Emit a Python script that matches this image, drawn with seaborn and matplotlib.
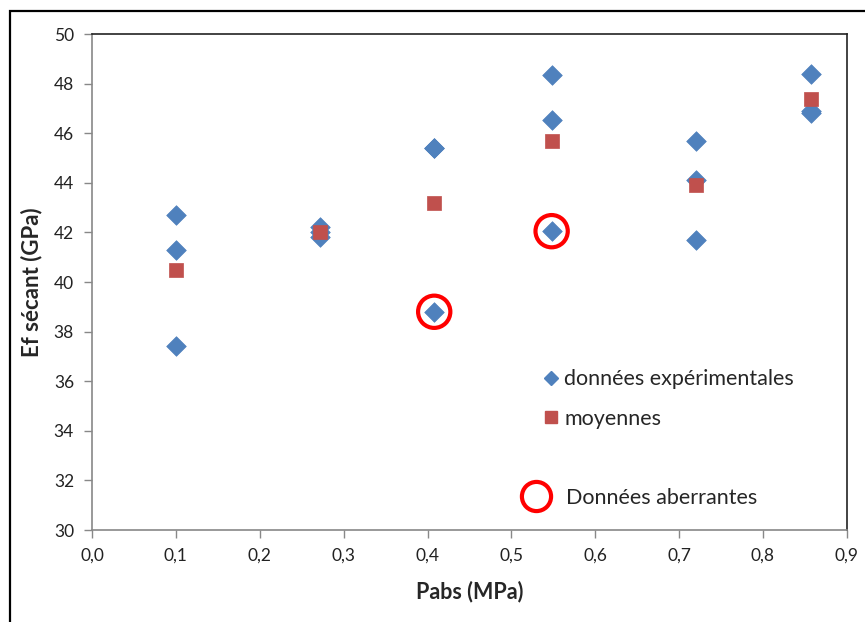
import numpy as np
import pandas as pd
import matplotlib
matplotlib.use("Agg")
import matplotlib.pyplot as plt
from matplotlib.lines import Line2D
from matplotlib.patches import Rectangle
import seaborn as sns

# pressures (MPa) and measured secant modulus (GPa)
exp_pabs = [0.10, 0.10, 0.10, 0.272, 0.272, 0.272, 0.408, 0.408, 0.408,
            0.548, 0.548, 0.548, 0.72, 0.72, 0.72, 0.857, 0.857, 0.857]
exp_ef = [42.7, 41.3, 37.4, 42.2, 41.8, 42.0, 45.4, 45.4, 38.8,
          48.35, 46.55, 42.05, 45.7, 44.1, 41.7, 48.4, 46.9, 46.8]

mean_pabs = [0.10, 0.272, 0.408, 0.548, 0.72, 0.857]
mean_ef = [40.5, 42.0, 43.2, 45.7, 43.9, 47.4]

# outliers (circled)
out_pabs = [0.408, 0.548]
out_ef = [38.8, 42.05]

xticks = [0.0, 0.1, 0.2, 0.3, 0.4, 0.5, 0.6, 0.7, 0.8, 0.9]
yticks = [30, 32, 34, 36, 38, 40, 42, 44, 46, 48, 50]

BLUE = "#4F81BD"
RED = "#C0504D"
RING = "#FF0000"

sns.set_style("white")
plt.rcParams["font.family"] = ["Lato", "DejaVu Sans"]

df_exp = pd.DataFrame({"Pabs": exp_pabs, "Ef": exp_ef})
df_mean = pd.DataFrame({"Pabs": mean_pabs, "Ef": mean_ef})
df_out = pd.DataFrame({"Pabs": out_pabs, "Ef": out_ef})

fig = plt.figure(figsize=(8.65, 6.22), dpi=100)
ax = fig.add_axes([0.1064, 0.1479, 0.8726, 0.7974])

# outer frame of the original excel chart (only top/left visible)
fig.patches.append(Rectangle((10 / 865, -0.1), 1.2, 1 - 11 / 622 + 0.1,
                             transform=fig.transFigure, fill=False,
                             edgecolor="black", linewidth=1.6, zorder=0))

sns.scatterplot(data=df_exp, x="Pabs", y="Ef", marker="D", s=100, color=BLUE,
                edgecolor=BLUE, linewidth=0.5, ax=ax, zorder=3)
sns.scatterplot(data=df_mean, x="Pabs", y="Ef", marker="s", s=115, color=RED,
                edgecolor=RED, linewidth=0.5, ax=ax, zorder=4)
sns.scatterplot(data=df_out, x="Pabs", y="Ef", marker="o", s=540,
                facecolor="none", edgecolor=RING, linewidth=3, ax=ax, zorder=5)

ax.set_xlim(0, 0.9)
ax.set_ylim(30, 50)
ax.set_xticks(xticks)
ax.set_xticklabels([f"{t:.1f}".replace(".", ",") for t in xticks])
ax.set_yticks(yticks)
ax.tick_params(axis="both", direction="out", length=6, width=1, color="#888888",
               labelsize=12.5, labelcolor="#222222", pad=7, left=True, bottom=True)

for side in ["left", "bottom"]:
    ax.spines[side].set_color("#888888")
    ax.spines[side].set_linewidth(1.2)
for side in ["top", "right"]:
    ax.spines[side].set_color("#222222")
    ax.spines[side].set_linewidth(1.2)

ax.set_xlabel("Pabs (MPa)", fontsize=15.5, fontweight="bold", labelpad=12)
ax.set_ylabel("Ef sécant (GPa)", fontsize=16, fontweight="bold", labelpad=8)

# legends
h_exp = Line2D([], [], marker="D", linestyle="none", color=BLUE, markersize=7)
h_mean = Line2D([], [], marker="s", linestyle="none", color=RED, markersize=9)
leg1 = ax.legend([h_exp, h_mean], ["données expérimentales", "moyennes"],
                 loc="center left", bbox_to_anchor=(0.6, 0.264), frameon=False,
                 fontsize=15.5, labelspacing=0.92, handlelength=0.6,
                 handletextpad=0.3, borderaxespad=0, borderpad=0)
ax.add_artist(leg1)
h_out = Line2D([], [], marker="o", linestyle="none", markerfacecolor="none",
               markeredgecolor=RING, markeredgewidth=3, markersize=21)
ax.legend([h_out], ["Données aberrantes"], loc="center left",
          bbox_to_anchor=(0.564, 0.0645), frameon=False, fontsize=15.5,
          handlelength=1.67, handletextpad=0.56, borderaxespad=0, borderpad=0)

fig.savefig("out.png", dpi=100)
